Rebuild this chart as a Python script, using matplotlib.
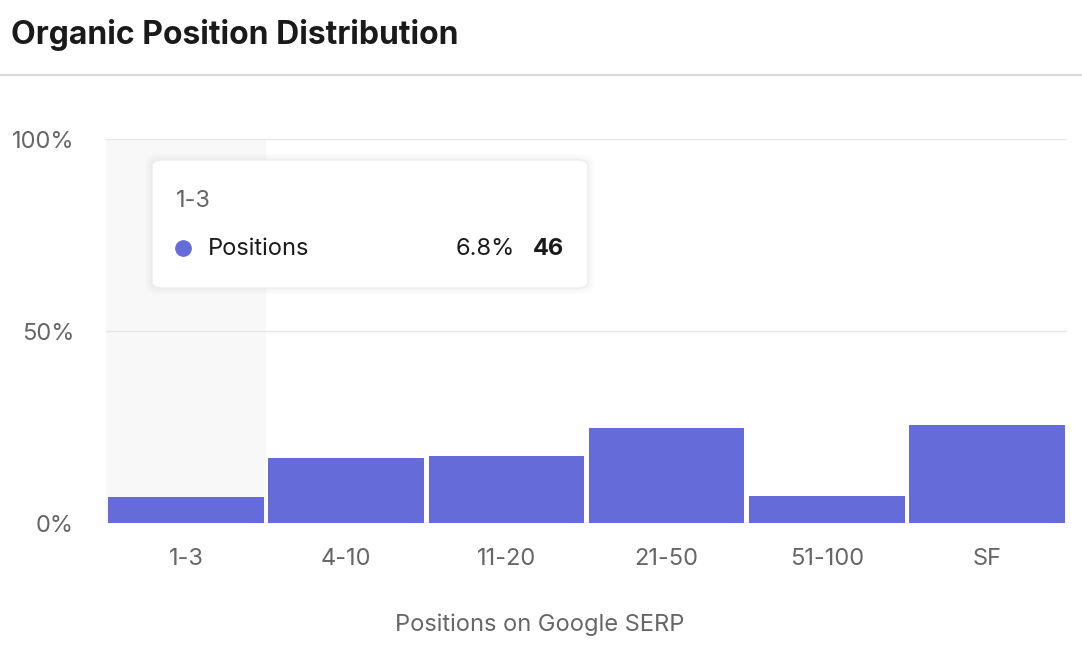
import matplotlib
matplotlib.use('Agg')
import matplotlib.pyplot as plt
from matplotlib.patches import FancyBboxPatch
from matplotlib.lines import Line2D

plt.rcParams['font.family'] = ['Inter', 'DejaVu Sans']

# data
categories = ['1-3', '4-10', '11-20', '21-50', '51-100', 'SF']
share_pct = [6.8, 16.9, 17.4, 24.7, 7.0, 25.5]
y_ticks = [0, 50, 100]
y_tick_labels = ['0%', '50%', '100%']
hover_category = '1-3'
hover_series = 'Positions'
hover_pct = '6.8%'
hover_count = '46'

BAR = '#656bd9'
GRID = '#e6e6e6'
TXT = '#666666'
FS = 17

W, H = 1082, 658
fig = plt.figure(figsize=(W / 100, H / 100), dpi=100)


def fx(px):
    return px / W


def fy(py):
    return 1 - py / H


# header
fig.text(fx(11), fy(35), 'Organic Position Distribution', fontsize=23,
         fontweight='bold', color='#1a1a1a', va='center', ha='left')
fig.add_artist(Line2D([0, 1], [fy(75), fy(75)], color='#d9d9d9', lw=1.5))

ax = fig.add_axes([fx(106), fy(523), fx(1067) - fx(106), fy(139) - fy(523)])
x = list(range(len(categories)))

# hover band behind the first category
hi = categories.index(hover_category)
ax.axvspan(hi - 0.5, hi + 0.5, color='#f8f8f8', zorder=0, lw=0)

for t in y_ticks:
    ax.axhline(t, color=GRID, lw=1, zorder=1)

ax.bar(x, share_pct, width=0.972, color=BAR, zorder=2)

ax.set_xlim(-0.5, len(categories) - 0.5)
ax.set_ylim(0, 100)
ax.set_xticks(x)
ax.set_xticklabels(categories)
ax.set_yticks(y_ticks)
ax.set_yticklabels(y_tick_labels)
ax.tick_params(length=0, labelsize=FS, labelcolor=TXT)
ax.tick_params(axis='x', pad=18)
ax.tick_params(axis='y', pad=23)
for s in ax.spines.values():
    s.set_visible(False)
fig.text(fx(540), fy(625), 'Positions on Google SERP', fontsize=FS, color=TXT,
         ha='center', va='center')

# tooltip
bx0, by0, bx1, by1 = 152, 160, 588, 288
for i, a in enumerate([0.015, 0.012, 0.01]):
    g = 6 - 2 * i
    fig.add_artist(FancyBboxPatch((fx(bx0 - g), fy(by1 + g)), fx(bx1 - bx0 + 2 * g), (by1 - by0 + 2 * g) / H,
                                  boxstyle='round,pad=0,rounding_size=0.012', fc='black', ec='none',
                                  alpha=a, transform=fig.transFigure))
fig.add_artist(FancyBboxPatch((fx(bx0), fy(by1)), fx(bx1 - bx0), (by1 - by0) / H,
                              boxstyle='round,pad=0,rounding_size=0.01', fc='white', ec='#ededed',
                              lw=1, transform=fig.transFigure))
fig.text(fx(176), fy(201), hover_category, fontsize=FS, color=TXT, va='center')
fig.add_artist(Line2D([fx(183)], [fy(248)], marker='o', ms=11, color=BAR, mec=BAR))
fig.text(fx(208), fy(249), hover_series, fontsize=FS, color='#1a1a1a', va='center')
fig.text(fx(515), fy(249), hover_pct, fontsize=FS, color='#1a1a1a', va='center', ha='right')
fig.text(fx(564), fy(249), hover_count, fontsize=FS, color='#1a1a1a', va='center', ha='right',
         fontweight='bold')

fig.savefig('out.png', dpi=100)
